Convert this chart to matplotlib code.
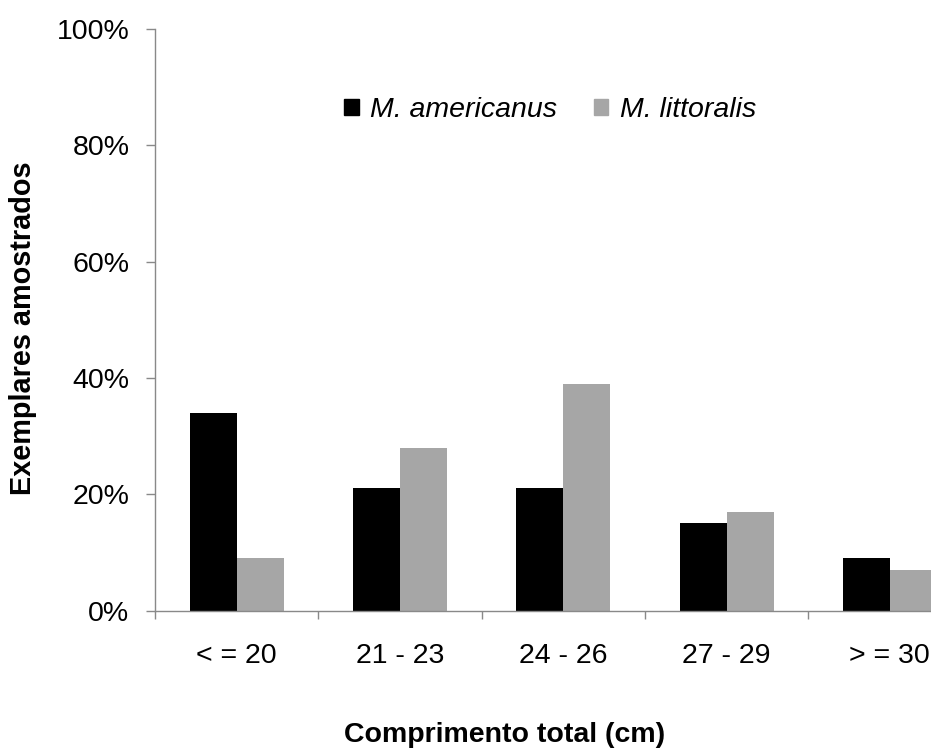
import matplotlib.pyplot as plt
import numpy as np
from matplotlib.patches import Patch

plt.rcParams['font.family'] = ['Liberation Sans', 'DejaVu Sans']

categories = ['< = 20', '21 - 23', '24 - 26', '27 - 29', '> = 30']
americanus = [34, 21, 21, 15, 9]
littoralis = [9, 28, 39, 17, 7]

axis_grey = '#898989'
bar_grey = '#A6A6A6'
fs = 20.5

fig = plt.figure(figsize=(9.31, 7.48), dpi=100)
# axes runs past the right edge, as in the original
ax = fig.add_axes([0.1665, 0.1836, 0.877, 0.778])

x = np.arange(len(categories)) + 0.5
w = 0.288
ax.bar(x - w / 2, americanus, w, color='black', label='M. americanus')
ax.bar(x + w / 2, littoralis, w, color=bar_grey, label='M. littoralis')

ax.set_xlim(0, len(categories))
ax.set_ylim(0, 100)
ax.set_yticks(np.arange(0, 101, 20))
ax.set_yticklabels([f'{v}%' for v in range(0, 101, 20)])
ax.set_xticks(x)
ax.set_xticklabels(categories)
ax.set_xticks(np.arange(0, len(categories) + 1), minor=True)

for s in ['top', 'right']:
    ax.spines[s].set_visible(False)
for s in ['left', 'bottom']:
    ax.spines[s].set_color(axis_grey)
    ax.spines[s].set_linewidth(1.0)

ax.tick_params(axis='y', direction='out', length=6.5, width=1.0, color=axis_grey,
               labelsize=fs, pad=12)
ax.tick_params(axis='x', which='major', length=0, labelsize=fs, pad=23)
ax.tick_params(axis='x', which='minor', direction='out', length=6, width=1.0,
               color=axis_grey)

fig.text(23 / 931, 1 - 328 / 748, 'Exemplares amostrados', rotation=90,
         ha='center', va='center', fontsize=20.8, fontweight='bold')
fig.text(505 / 931, 1 - 742 / 748, 'Comprimento total (cm)',
         ha='center', va='baseline', fontsize=fs, fontweight='bold')

handles = [Patch(color='black'), Patch(color=bar_grey)]
leg = fig.legend(handles, ['M. americanus', 'M. littoralis'], ncol=2,
                 loc='center', bbox_to_anchor=(0.591, 0.853), frameon=False,
                 prop={'style': 'italic', 'size': fs},
                 handlelength=0.5, handleheight=0.5, handletextpad=0.4,
                 columnspacing=1.3)

fig.savefig('out.png', dpi=100)
